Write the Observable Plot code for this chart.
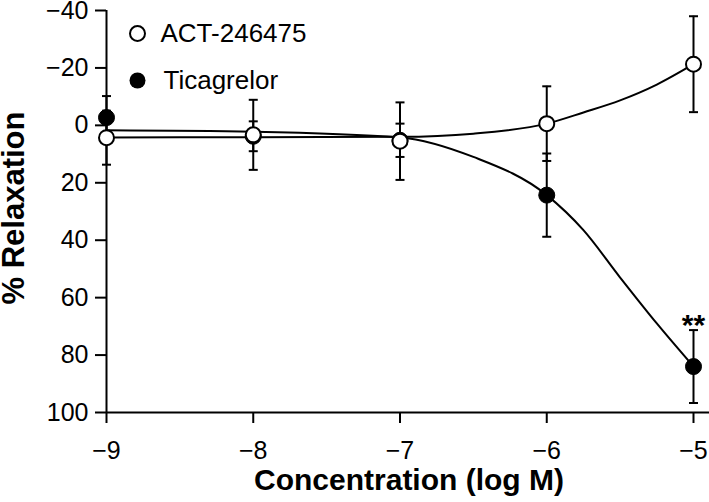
<!DOCTYPE html>
<html><head><meta charset="utf-8">
<script src="https://cdn.jsdelivr.net/npm/d3@7"></script>
<script src="https://cdn.jsdelivr.net/npm/@observablehq/plot@0.6"></script>
<style>body{margin:0;background:#fff;} svg{display:block}</style>
</head><body><div id="chart"></div>
<script>
// Observed data (log M concentration, % relaxation mean ± SEM)
const concentrations = [-9, -8, -7, -6, -5];
const actMean  = [4.3, 3.3, 5.5, -0.6, -21.3];
const actSem   = [9.4, 12.2, 13.5, 13.0, 16.7];
const ticaMean = [-2.7, 3.8, 5.2, 24.3, 84.0];
const ticaSem  = [7.5, 5.2, 5.8, 14.5, 12.7];

// Fitted curves
const fitX    = [-9, -8, -7, -6.5, -6, -5.75, -5.5, -5.25, -5];
const actFit  = [4.2, 4.1, 4.0, 2.9, -0.6, -4.5, -8.7, -14.2, -21.3];
const ticaFit = [1.7, 2.2, 4.2, 11, 24.3, 36.5, 53, 69, 84];

const xTicks = [-9, -8, -7, -6, -5];
const yTicks = [-40, -20, 0, 20, 40, 60, 80, 100];

const seriesNames = ["ACT-246475", "Ticagrelor"];
const significance = [{x: -5, y: 71.1, label: "**"}];

const act = concentrations.map((x, i) => ({x, mean: actMean[i], sem: actSem[i]}));
const tica = concentrations.map((x, i) => ({x, mean: ticaMean[i], sem: ticaSem[i]}));
const actCurve = fitX.map((x, i) => ({x, y: actFit[i]}));
const ticaCurve = fitX.map((x, i) => ({x, y: ticaFit[i]}));

const capSymbol = {draw(context) { const w = 4.5; context.moveTo(-w, 0); context.lineTo(w, 0); }};

const font = "'Liberation Sans', Arial, Helvetica, sans-serif";
const fmt = d => d < 0 ? "\u2212" + Math.abs(d) : String(d);

function errorMarks(data) {
  return [
    Plot.ruleX(data, {x: "x", y1: d => d.mean - d.sem, y2: d => d.mean + d.sem, stroke: "black", strokeWidth: 2}),
    Plot.dot(data, {x: "x", y: d => d.mean - d.sem, symbol: capSymbol, stroke: "black", strokeWidth: 2, fill: "none"}),
    Plot.dot(data, {x: "x", y: d => d.mean + d.sem, symbol: capSymbol, stroke: "black", strokeWidth: 2, fill: "none"})
  ];
}

const chart = Plot.plot({
  width: 709,
  height: 502,
  marginLeft: 106,
  marginRight: 16,
  marginTop: 10,
  marginBottom: 90,
  style: {fontFamily: font, fontSize: "25px", color: "black", background: "white"},
  x: {domain: [-9, -5]},
  y: {domain: [-40, 100], reverse: true},
  marks: [
    Plot.axisY({ticks: yTicks, tickSize: 11, tickPadding: 7, strokeWidth: 2, fontSize: 25, label: null, tickFormat: fmt}),
    Plot.axisX({ticks: xTicks, tickSize: 11, tickPadding: 18, strokeWidth: 2, fontSize: 25, label: null, tickFormat: fmt}),
    Plot.ruleX([-9], {y1: -40, y2: 100, stroke: "black", strokeWidth: 2}),
    Plot.ruleY([100], {x1: -9, x2: -4.88, stroke: "black", strokeWidth: 2}),
    Plot.line(actCurve, {x: "x", y: "y", curve: "monotone-x", stroke: "black", strokeWidth: 2}),
    Plot.line(ticaCurve, {x: "x", y: "y", curve: "monotone-x", stroke: "black", strokeWidth: 2}),
    ...errorMarks(tica),
    ...errorMarks(act),
    Plot.dot(tica, {x: "x", y: "mean", r: 8, fill: "black", stroke: "black", strokeWidth: 1}),
    Plot.dot(act, {x: "x", y: "mean", r: 7.5, fill: "white", stroke: "black", strokeWidth: 2}),
    Plot.text(significance, {x: "x", y: "y", text: "label", dy: -4, fontSize: 30, fontWeight: "bold", fill: "black"}),
    // legend
    Plot.dot([0], {frameAnchor: "top-left", dx: 31, dy: 23, r: 7.5, fill: "white", stroke: "black", strokeWidth: 2}),
    Plot.dot([0], {frameAnchor: "top-left", dx: 31, dy: 70, r: 8, fill: "black"}),
    Plot.text([seriesNames[0]], {frameAnchor: "top-left", dx: 54, dy: 23, text: d => d, textAnchor: "start", lineAnchor: "middle", fontSize: 26, fill: "black"}),
    Plot.text([seriesNames[1]], {frameAnchor: "top-left", dx: 57, dy: 70, text: d => d, textAnchor: "start", lineAnchor: "middle", fontSize: 26, fill: "black"}),
    // axis titles
    Plot.text(["Concentration (log M)"], {frameAnchor: "bottom", dx: 9, dy: 68, text: d => d, textAnchor: "middle", lineAnchor: "middle", fontSize: 30, fontWeight: "bold", fill: "black"}),
    Plot.text(["% Relaxation"], {frameAnchor: "left", dx: -92, dy: -3.5, rotate: -90, text: d => d, textAnchor: "middle", lineAnchor: "middle", fontSize: 31, fontWeight: "bold", fill: "black"})
  ]
});
document.getElementById("chart").appendChild(chart);
</script>
</body></html>
